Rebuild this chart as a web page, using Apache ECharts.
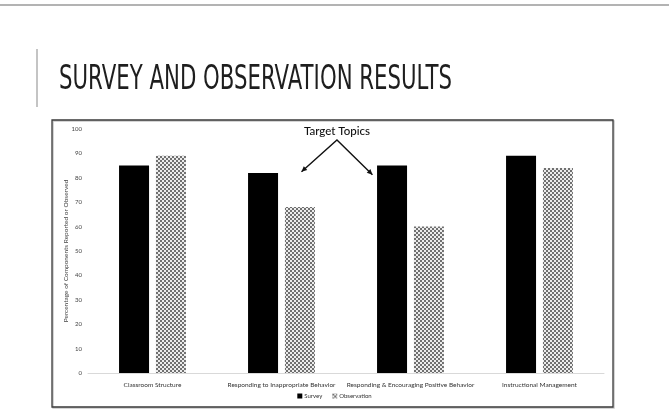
<!DOCTYPE html>
<html>
<head>
<meta charset="utf-8">
<script src="https://cdn.jsdelivr.net/npm/echarts@6/dist/echarts.min.js"></script>
<style>
  html, body { margin: 0; padding: 0; background: #ffffff; }
  #chart { width: 669px; height: 417px; }
</style>
</head>
<body>
<div id="chart"></div>
<script>
// Topics covered by the survey and the classroom observation
const categories = [
  'Classroom Structure',
  'Responding to Inappropriate Behavior',
  'Responding & Encouraging Positive Behavior',
  'Instructional Management'
];
const surveyValues = [85, 82, 85, 89];
const observationValues = [89, 68, 60, 84];
const yTicks = [0, 10, 20, 30, 40, 50, 60, 70, 80, 90, 100];
const seriesNames = ['Survey', 'Observation'];

const FONT = 'Lato, "Open Sans", sans-serif';

// Checkered fill used for the observation bars
function checkerPattern() {
  const c = document.createElement('canvas');
  c.width = 4; c.height = 4;
  const g = c.getContext('2d');
  g.fillStyle = '#ececec';
  g.fillRect(0, 0, 4, 4);
  g.fillStyle = '#707070';
  g.fillRect(0, 0, 2, 2);
  g.fillRect(2, 2, 2, 2);
  return c;
}
const obsFill = { image: checkerPattern(), repeat: 'repeat' };

// Fit the slide title into its width with a horizontal squeeze
const titleText = 'SURVEY AND OBSERVATION RESULTS';
const titleFont = '33px "DejaVu Sans", sans-serif';
const measure = document.createElement('canvas').getContext('2d');
measure.font = titleFont;
const titleScale = 393 / measure.measureText(titleText).width;

const chart = echarts.init(document.getElementById('chart'), null, { renderer: 'canvas' });

chart.setOption({
  animation: false,
  backgroundColor: '#ffffff',
  grid: { left: 88, right: 65, top: 129, bottom: 44, containLabel: false },
  legend: {
    data: seriesNames,
    bottom: 13,
    left: 'center',
    itemWidth: 5,
    itemHeight: 5,
    itemGap: 10,
    icon: 'rect',
    textStyle: { fontFamily: FONT, fontSize: 6, color: '#333', padding: [0, 0, 0, -3] }
  },
  xAxis: {
    type: 'category',
    data: categories,
    axisLine: { lineStyle: { color: '#d9d9d9', width: 1 } },
    axisTick: { show: false },
    axisLabel: { fontFamily: FONT, fontSize: 6.5, color: '#333', margin: 8, interval: 0 }
  },
  yAxis: {
    type: 'value',
    min: yTicks[0],
    max: yTicks[yTicks.length - 1],
    interval: yTicks[1] - yTicks[0],
    name: 'Percentage of Components Reported or Observed',
    nameLocation: 'middle',
    nameGap: 19,
    nameMoveOverlap: false,
    nameRotate: 90,
    nameTextStyle: { fontFamily: FONT, fontSize: 6.5, color: '#444' },
    axisLine: { show: false },
    axisTick: { show: false },
    splitLine: { show: false },
    axisLabel: { fontFamily: FONT, fontSize: 6, color: '#444', margin: 6 }
  },
  series: [
    {
      name: seriesNames[0],
      type: 'bar',
      data: surveyValues,
      barWidth: 30,
      barGap: '23%',
      itemStyle: { color: '#000000' }
    },
    {
      name: seriesNames[1],
      type: 'bar',
      data: observationValues,
      barWidth: 30,
      itemStyle: { color: obsFill }
    }
  ]
});

// Pixel x of a fractional category position
function catX(pos) {
  const i = Math.floor(pos);
  const a = chart.convertToPixel({ xAxisIndex: 0 }, i);
  const b = chart.convertToPixel({ xAxisIndex: 0 }, i + 1);
  return a + (b - a) * (pos - i);
}
function valY(v) {
  return chart.convertToPixel({ yAxisIndex: 0 }, v);
}

// "Target Topics" callout pointing at the two behaviour topics
const apex = [catX(1.43), valY(95.5)];
const leftTip = [catX(1.155), valY(82.5)];
const rightTip = [catX(1.705), valY(81.3)];

function arrowHead(tip, from, size) {
  const ang = Math.atan2(tip[1] - from[1], tip[0] - from[0]);
  const s = size, w = 0.45;
  return [
    tip,
    [tip[0] - s * Math.cos(ang - w), tip[1] - s * Math.sin(ang - w)],
    [tip[0] - s * Math.cos(ang + w), tip[1] - s * Math.sin(ang + w)]
  ];
}

chart.setOption({
  graphic: [
    // slide top rule
    { type: 'line', shape: { x1: 0, y1: 5, x2: 669, y2: 5 }, style: { stroke: '#9a9a9a', lineWidth: 1.5 }, silent: true },
    // accent bar beside the title
    { type: 'line', shape: { x1: 37, y1: 49, x2: 37, y2: 107 }, style: { stroke: '#b0b0b0', lineWidth: 1.5 }, silent: true },
    // slide title
    {
      type: 'text', x: 59, y: 97, scaleX: titleScale, scaleY: 1,
      style: { text: titleText, font: titleFont, fill: '#1e1e1e', textVerticalAlign: 'bottom' },
      silent: true
    },
    // chart frame with soft shadow
    { type: 'rect', shape: { x: 53, y: 121, width: 561, height: 287 }, style: { fill: 'none', stroke: '#c8c8c8', lineWidth: 1.5 }, silent: true, z: -1 },
    { type: 'rect', shape: { x: 52, y: 120, width: 561, height: 287 }, style: { fill: 'none', stroke: '#3a3a3a', lineWidth: 1.3 }, silent: true },
    // callout text and arrows
    {
      type: 'text', x: apex[0], y: valY(99.2),
      style: { text: 'Target Topics', font: '500 11.5px ' + FONT, fill: '#111', textAlign: 'center', textVerticalAlign: 'middle' },
      silent: true
    },
    { type: 'polyline', shape: { points: [leftTip, apex, rightTip] }, style: { stroke: '#111', lineWidth: 1.4, fill: 'none' }, silent: true },
    { type: 'polygon', shape: { points: arrowHead(leftTip, apex, 6) }, style: { fill: '#111' }, silent: true },
    { type: 'polygon', shape: { points: arrowHead(rightTip, apex, 6) }, style: { fill: '#111' }, silent: true }
  ]
});
</script>
</body>
</html>
